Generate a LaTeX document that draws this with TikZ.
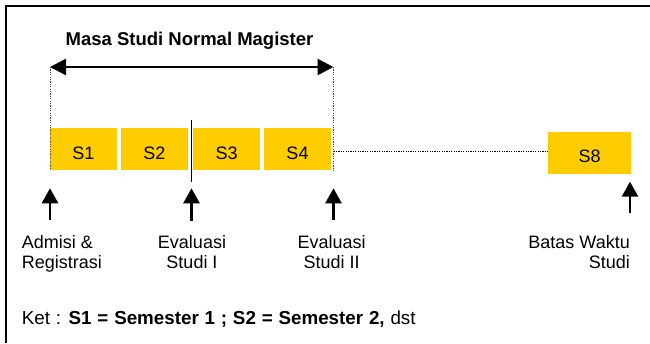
\documentclass[tikz,border=0pt]{standalone}
\usepackage{fontspec}
\setmainfont{Liberation Sans}
\usetikzlibrary{arrows.meta}
\definecolor{semyellow}{HTML}{FFCC00}
\tikzset{
  sem/.style={fill=semyellow,minimum width=67pt,minimum height=42pt,inner sep=0pt,text height=19.6pt,text depth=0pt},
  uparrow/.style={-{Triangle[length=15pt,width=16pt]},line width=2.6pt},
  dots/.style={line width=1pt,dash pattern=on 1.2pt off 1.2pt},
  lbl/.style={inner sep=0pt,font=\fontsize{18}{20.6}\selectfont}
}
\begin{document}
\begin{tikzpicture}[x=1pt,y=-1pt,font=\fontsize{18}{20.6}\selectfont]
  \useasboundingbox (0,0) rectangle (650,343);
  \draw[line width=2pt] (6,343) -- (6,6) -- (650,6);
  \node[lbl,anchor=base,font=\fontsize{18.5}{20.6}\bfseries] (title) at (189.5,45) {Masa Studi Normal Magister};
  \coordinate (l) at (50,67);
  \coordinate (r) at (333.5,67);
  \coordinate (lb) at (50,170);
  \coordinate (rb) at (333.5,172);
  \node[sem] (s1) at (83.3,149.2) {S1};
  \node[sem] (s2) at (154.5,149.2) {S2};
  \node[sem] (s3) at (226.7,149.2) {S3};
  \node[sem] (s4) at (297.5,149.2) {S4};
  \node[sem,minimum width=83pt,text height=18pt] (s8) at (589.7,153.3) {S8};
  \draw[{Triangle[length=16pt,width=16pt]}-{Triangle[length=16pt,width=16pt]},line width=2.6pt] (l) -- (r);
  \draw[dots,line width=0.7pt,black!70] (l) -- (lb);
  \draw[dots,line width=0.7pt,black!70] (r) -- (rb);
  \coordinate (d1) at (333.5,151.7);
  \coordinate (d2) at (548.3,151.7);
  \draw[dots] (d1) -- (d2);
  \coordinate (m1) at (191.5,120);
  \coordinate (m2) at (191.5,182);
  \draw[line width=1pt] (m1) -- (m2);
  \coordinate (a1) at (50,220);
  \coordinate (a1t) at (50,188.3);
  \coordinate (a2) at (191.5,221);
  \coordinate (a2t) at (191.5,188.3);
  \coordinate (a3) at (333.5,220);
  \coordinate (a3t) at (333.5,188.3);
  \coordinate (a8) at (630,213.3);
  \coordinate (a8t) at (630,181.7);
  \draw[uparrow] (a1) -- (a1t);
  \draw[uparrow] (a2) -- (a2t);
  \draw[uparrow] (a3) -- (a3t);
  \draw[uparrow] (a8) -- (a8t);
  \node[lbl,anchor=north west,align=left] (adm) at (21.7,234.8) {Admisi \&\\Registrasi};
  \node[lbl,anchor=north,align=center] (ev1) at (192,234.8) {Evaluasi\\Studi I};
  \node[lbl,anchor=north,align=center] (ev2) at (331.7,234.8) {Evaluasi\\Studi II};
  \node[lbl,anchor=north east,align=right] (bts) at (630,234.8) {Batas Waktu\\Studi};
  \node[lbl,anchor=base west,font=\fontsize{18.8}{20.6}\selectfont] (ket) at (21.7,324) {\spaceskip=5.8pt Ket : \textbf{S1 = Semester 1 ; S2 = Semester 2,} dst};
\end{tikzpicture}
\end{document}
